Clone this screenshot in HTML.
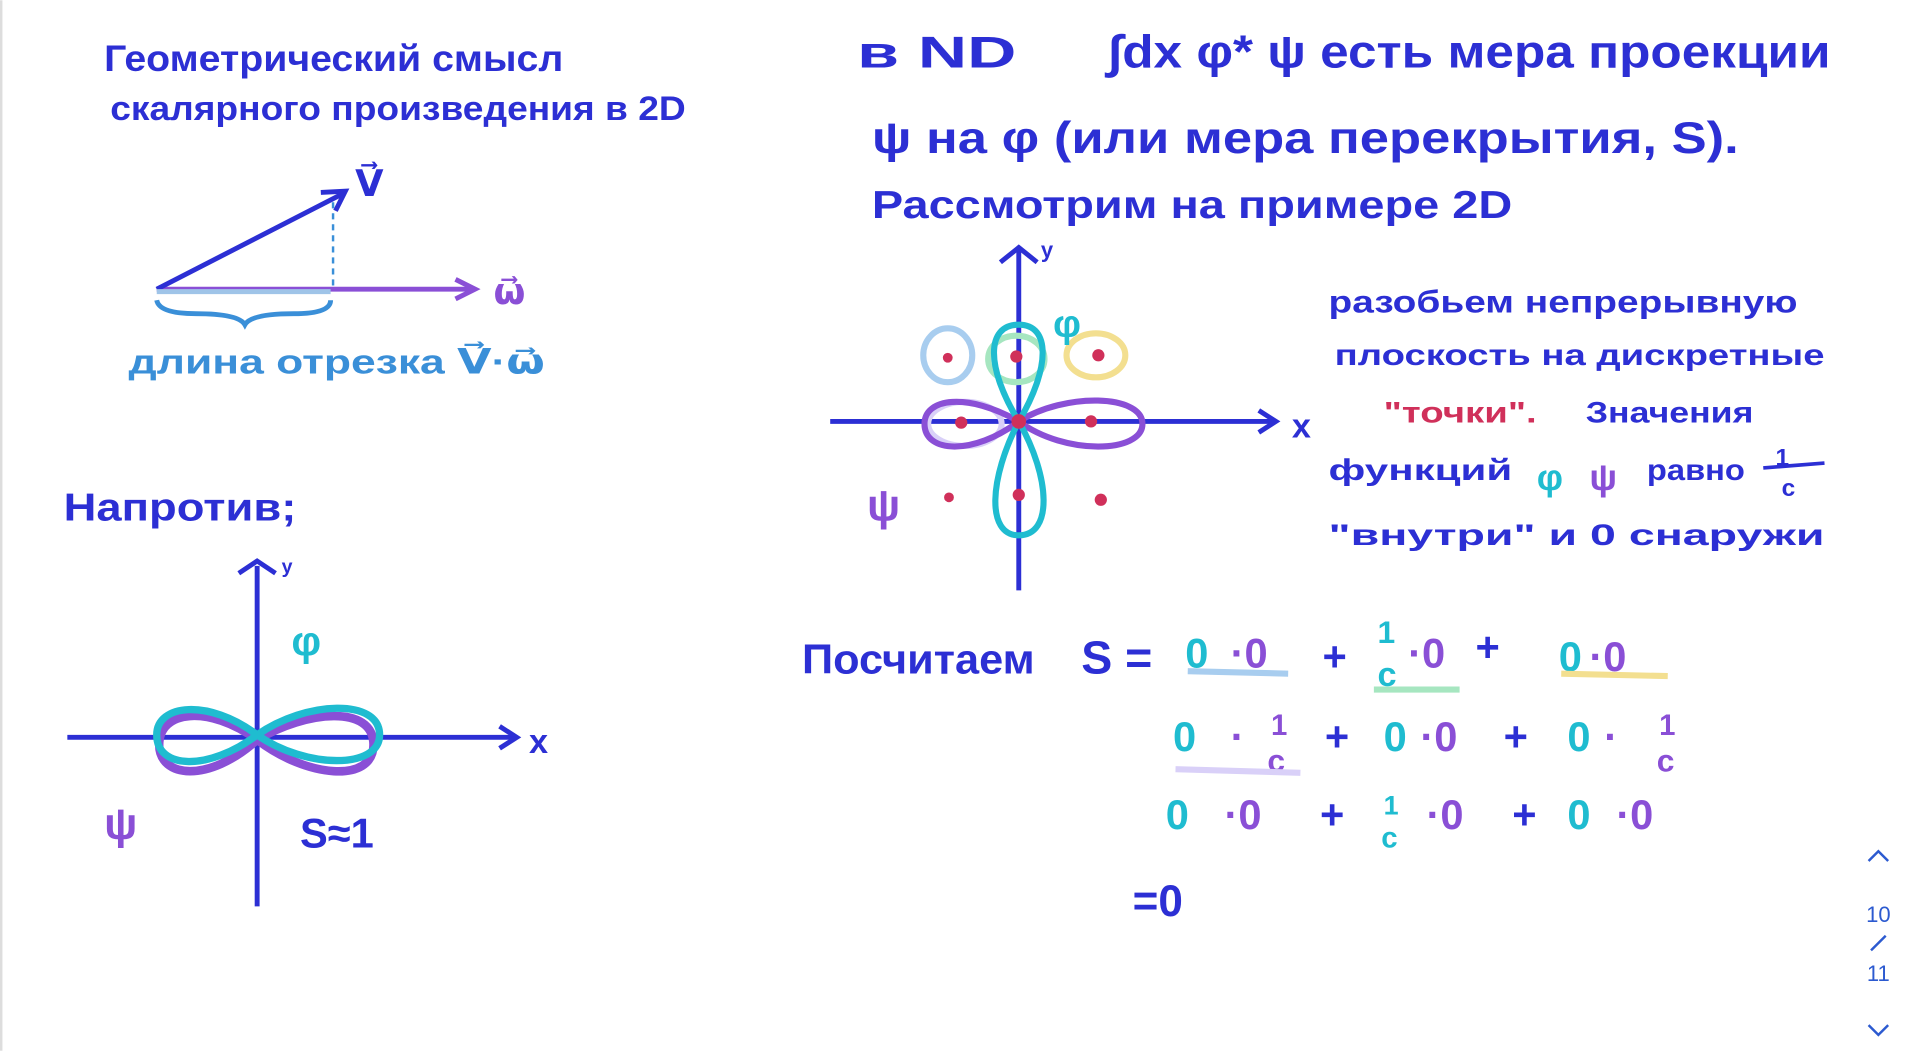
<!DOCTYPE html>
<html><head><meta charset="utf-8"><style>
html,body{margin:0;padding:0;background:#fff;overflow:hidden}
svg{display:block}
text{font-family:"Liberation Sans","DejaVu Sans",sans-serif;font-weight:bold}
</style></head><body>
<svg width="1920" height="1051" viewBox="0 0 1568 858" xmlns="http://www.w3.org/2000/svg">
<rect width="1568" height="858" fill="#fff"/>
<line x1="1" y1="0" x2="1" y2="858" stroke="#ddd" stroke-width="2"/>
<g fill="#2c2fd4">
<text x="85" y="58" font-size="30" textLength="375" lengthAdjust="spacingAndGlyphs">Геометрический смысл</text>
<text x="90" y="98" font-size="28" textLength="470" lengthAdjust="spacingAndGlyphs">скалярного произведения в 2D</text>
<text x="700" y="55" font-size="36" textLength="130" lengthAdjust="spacingAndGlyphs">в ND</text>
<text x="905" y="55" font-size="38" textLength="590" lengthAdjust="spacingAndGlyphs">∫dx   φ* ψ  есть мера проекции</text>
<text x="712" y="125" font-size="36" textLength="708" lengthAdjust="spacingAndGlyphs">ψ на φ (или мера перекрытия, S).</text>
<text x="712" y="178" font-size="32" textLength="523" lengthAdjust="spacingAndGlyphs">Рассмотрим на примере 2D</text>
<text x="52" y="425" font-size="32" textLength="190" lengthAdjust="spacingAndGlyphs">Напротив;</text>
<text x="1085" y="255" font-size="26" textLength="383" lengthAdjust="spacingAndGlyphs">разобьем непрерывную</text>
<text x="1090" y="298" font-size="24" textLength="400" lengthAdjust="spacingAndGlyphs">плоскость на дискретные</text>
<text x="1295" y="345" font-size="24" textLength="137" lengthAdjust="spacingAndGlyphs">Значения</text>
<text x="1085" y="392" font-size="24" textLength="150" lengthAdjust="spacingAndGlyphs">функций</text>
<text x="1345" y="392" font-size="24" textLength="80" lengthAdjust="spacingAndGlyphs">равно</text>
<text x="1085" y="445" font-size="24" textLength="405" lengthAdjust="spacingAndGlyphs">"внутри"  и  0  снаружи</text>
<text x="655" y="550" font-size="34" textLength="190" lengthAdjust="spacingAndGlyphs">Посчитаем</text>
<text x="883" y="550" font-size="38">S =</text>
<text x="925" y="748" font-size="36">=0</text>
<text x="245" y="692" font-size="34">S≈1</text>
<text x="432" y="615" font-size="28">x</text>
<text x="1055" y="357" font-size="28">x</text>
</g>
<text x="1130" y="345" font-size="24" fill="#d0305a" textLength="125" lengthAdjust="spacingAndGlyphs">"точки".</text>
<text x="1255" y="400" font-size="30" fill="#1fbcd0">φ</text><text x="1298" y="400" font-size="30" fill="#8a4fd6">ψ</text>
<text x="1450" y="380" font-size="20" fill="#2c2fd4">1</text><line x1="1440" y1="382" x2="1490" y2="378" stroke="#2c2fd4" stroke-width="3"/><text x="1455" y="405" font-size="20" fill="#2c2fd4">c</text>
<line x1="128" y1="236" x2="385" y2="236" stroke="#8a4fd6" stroke-width="4"/>
<path d="M372 228 L388 236 L372 244" fill="none" stroke="#8a4fd6" stroke-width="4"/>
<line x1="128" y1="236" x2="280" y2="158" stroke="#2c2fd4" stroke-width="4"/>
<path d="M262 157 L282 156 L274 172" fill="none" stroke="#2c2fd4" stroke-width="4"/>
<line x1="272" y1="165" x2="272" y2="236" stroke="#3a8fd8" stroke-width="2" stroke-dasharray="5,4"/>
<line x1="128" y1="238" x2="270" y2="238" stroke="#9fc4e8" stroke-width="4"/>
<path d="M128 245 Q130 256 160 256 Q195 256 200 265 Q205 256 240 256 Q270 256 270 245" fill="none" stroke="#3a8fd8" stroke-width="4"/>
<text x="290" y="160" font-size="30" fill="#2c2fd4">V⃗</text>
<text x="403" y="248" font-size="30" fill="#8a4fd6">ω⃗</text>
<text x="105" y="305" font-size="28" fill="#3a8fd8" textLength="340" lengthAdjust="spacingAndGlyphs">длина отрезка V⃗·ω⃗</text>
<line x1="210" y1="740" x2="210" y2="462" stroke="#2c2fd4" stroke-width="4"/>
<path d="M195 468 L210 458 L225 468" fill="none" stroke="#2c2fd4" stroke-width="4"/>
<line x1="55" y1="602" x2="420" y2="602" stroke="#2c2fd4" stroke-width="4"/>
<path d="M408 593 L422 602 L408 611" fill="none" stroke="#2c2fd4" stroke-width="4"/>
<path d="M210 604 C170 640 130 635 130 608 C130 580 170 575 210 604 C250 635 305 640 305 608 C305 575 250 580 210 604Z" fill="none" stroke="#8a4fd6" stroke-width="7"/>
<path d="M210 600 C170 630 128 628 128 600 C128 575 170 570 210 600 C250 628 310 628 310 600 C310 570 250 572 210 600Z" fill="none" stroke="#1fbcd0" stroke-width="6"/>
<text x="238" y="535" font-size="34" fill="#1fbcd0">φ</text>
<text x="85" y="685" font-size="36" fill="#8a4fd6">ψ</text>
<line x1="832" y1="482" x2="832" y2="203" stroke="#2c2fd4" stroke-width="4"/>
<path d="M817 214 L832 202 L847 214" fill="none" stroke="#2c2fd4" stroke-width="4"/>
<line x1="678" y1="344" x2="1040" y2="344" stroke="#2c2fd4" stroke-width="4"/>
<path d="M1028 335 L1042 344 L1028 353" fill="none" stroke="#2c2fd4" stroke-width="4"/>
<ellipse cx="774" cy="290" rx="20" ry="22" fill="none" stroke="#a8cdef" stroke-width="5"/>
<ellipse cx="830" cy="293" rx="23" ry="19" fill="none" stroke="#a6e6c0" stroke-width="5"/>
<ellipse cx="895" cy="290" rx="24" ry="18" fill="none" stroke="#f3df90" stroke-width="5"/>
<ellipse cx="788" cy="346" rx="30" ry="18" fill="none" stroke="#d9d0f8" stroke-width="5"/>
<path d="M832 344 C790 320 755 325 755 346 C755 370 795 372 832 344 C870 320 933 322 933 346 C933 370 870 372 832 344Z" fill="none" stroke="#8a4fd6" stroke-width="5"/>
<path d="M832 344 C805 300 805 265 832 265 C858 265 858 300 832 344 C808 390 805 437 832 437 C860 437 858 390 832 344Z" fill="none" stroke="#1fbcd0" stroke-width="5"/>
<g fill="#d0305a">
<circle cx="774" cy="292" r="4"/><circle cx="830" cy="291" r="5"/><circle cx="897" cy="290" r="5"/>
<circle cx="785" cy="345" r="5"/><circle cx="832" cy="344" r="6"/><circle cx="891" cy="344" r="5"/>
<circle cx="775" cy="406" r="4"/><circle cx="832" cy="404" r="5"/><circle cx="899" cy="408" r="5"/>
</g>
<text x="860" y="275" font-size="32" fill="#1fbcd0">φ</text>
<text x="708" y="425" font-size="36" fill="#8a4fd6">ψ</text>
<text x="850" y="210" font-size="18" fill="#2c2fd4">y</text>
<text x="230" y="468" font-size="16" fill="#2c2fd4">y</text>
<g font-size="34">
<text x="968" y="545" fill="#1fbcd0">0</text><text x="1005" y="545" fill="#8a4fd6">·0</text>
<text x="1080" y="548" fill="#2c2fd4">+</text>
<text x="1125" y="525" font-size="26" fill="#1fbcd0">1</text><text x="1125" y="560" font-size="28" fill="#1fbcd0">c</text>
<text x="1150" y="545" fill="#8a4fd6">·0</text><text x="1205" y="540" fill="#2c2fd4">+</text>
<text x="1273" y="548" fill="#1fbcd0">0</text><text x="1298" y="548" fill="#8a4fd6">·0</text>
<text x="958" y="613" fill="#1fbcd0">0</text><text x="1005" y="613" fill="#8a4fd6">·</text>
<text x="1038" y="600" font-size="24" fill="#8a4fd6">1</text><text x="1035" y="630" font-size="26" fill="#8a4fd6">c</text>
<text x="1082" y="613" fill="#2c2fd4">+</text>
<text x="1130" y="613" fill="#1fbcd0">0</text><text x="1160" y="613" fill="#8a4fd6">·0</text>
<text x="1228" y="613" fill="#2c2fd4">+</text>
<text x="1280" y="613" fill="#1fbcd0">0</text><text x="1310" y="613" fill="#8a4fd6">·</text>
<text x="1355" y="600" font-size="24" fill="#8a4fd6">1</text><text x="1353" y="630" font-size="26" fill="#8a4fd6">c</text>
<text x="952" y="677" fill="#1fbcd0">0</text><text x="1000" y="677" fill="#8a4fd6">·0</text>
<text x="1078" y="677" fill="#2c2fd4">+</text>
<text x="1130" y="665" font-size="22" fill="#1fbcd0">1</text><text x="1128" y="692" font-size="24" fill="#1fbcd0">c</text>
<text x="1165" y="677" fill="#8a4fd6">·0</text>
<text x="1235" y="677" fill="#2c2fd4">+</text>
<text x="1280" y="677" fill="#1fbcd0">0</text><text x="1320" y="677" fill="#8a4fd6">·0</text>
</g>
<line x1="970" y1="548" x2="1052" y2="550" stroke="#a8cdef" stroke-width="5"/>
<line x1="1122" y1="563" x2="1192" y2="563" stroke="#a6e6c0" stroke-width="5"/>
<line x1="1275" y1="550" x2="1362" y2="552" stroke="#f3df90" stroke-width="5"/>
<line x1="960" y1="628" x2="1062" y2="631" stroke="#d9d0f8" stroke-width="5"/>
<path d="M1526 703 L1534 695 L1542 703" fill="none" stroke="#2c5ad0" stroke-width="2"/>
<text x="1534" y="753" font-size="18" fill="#2c5ad0" text-anchor="middle" style="font-weight:normal">10</text>
<line x1="1528" y1="776" x2="1540" y2="764" stroke="#2c5ad0" stroke-width="2"/>
<text x="1534" y="801" font-size="18" fill="#2c5ad0" text-anchor="middle" style="font-weight:normal">11</text>
<path d="M1526 837 L1534 845 L1542 837" fill="none" stroke="#2c5ad0" stroke-width="2"/>
</svg>
</body></html>
